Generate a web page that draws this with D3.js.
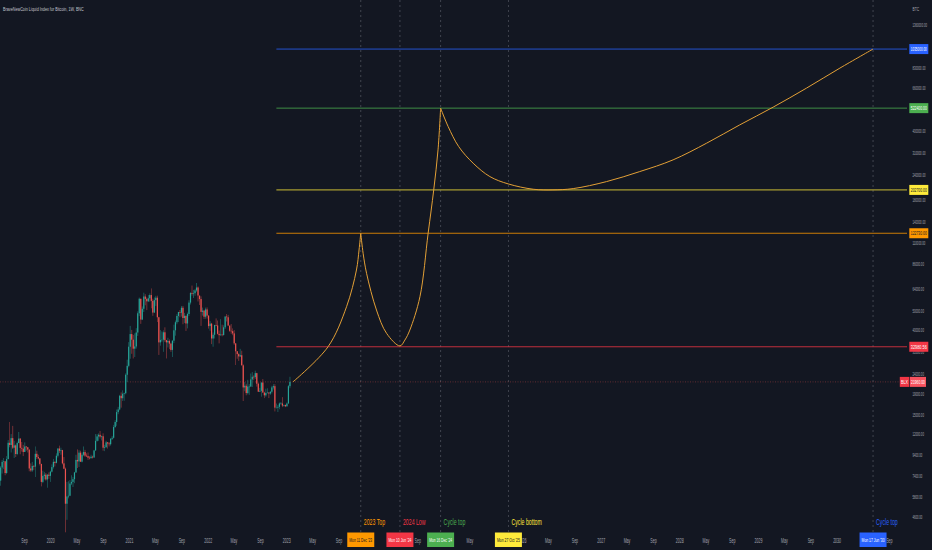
<!DOCTYPE html>
<html><head><meta charset="utf-8">
<script src="https://cdn.jsdelivr.net/npm/d3@7"></script>
<style>html,body{margin:0;padding:0;background:#131722;overflow:hidden}</style>
</head><body>
<svg id="c" width="932" height="550"></svg>
<script>
// ---------------- DATA ----------------
const titleText = "BraveNewCoin Liquid Index for Bitcoin, 1W, BNC";
const currencyText = "BTC";
const symbolText = "BLX";
const firstWeek = "2019-05-06";
const firstOpen = 5750;
const closes = [
7000,8150,8700,8750,7650,8990,10850,10580,11450,10250,10530,9530,10820,11390,10230,10140,9760,10390,10300,10030,8060,7880,8290,8230,9550,9200,9050,8500,6900,7400,7500,7100,7500,7400,7770,
8190,8700,8600,9340,10150,9900,9970,8550,8040,5360,5830,5880,6770,6900,7120,7700,8900,8750,9680,8720,9450,9750,9350,9300,9130,9080,9240,9160,9930,11100,11680,11900,11650,11700,10250,10330,10900,10770,10670,11370,11500,13030,13800,15480,15960,18700,18180,19150,19270,23850,26450,33000,
38200,35800,32260,33100,38900,48600,57500,45200,51200,59000,57400,55800,57800,60000,56100,49000,56600,58200,46400,34700,35700,35800,39000,35600,34700,35300,34200,31800,35400,39900,43800,47100,49300,48900,51800,46000,47200,43200,48200,55000,61500,60900,61300,63300,65500,59700,57300,49400,50100,46700,50800,47300,
41900,43100,36300,37900,42400,42200,38300,37700,38000,37800,41300,46800,46400,42200,39700,39500,38500,34300,31300,30300,29500,29900,26600,20600,21000,19300,20800,20800,22600,23300,23200,24300,21500,19600,19800,21800,19400,18800,19300,19400,19200,19600,20600,20900,16300,16300,16450,17100,17100,16700,16800,16550,
17100,20900,21960];
const highs = [
7450,8300,8900,9100,8800,9300,11200,13800,12000,13200,11100,10650,11000,12300,11450,10950,10600,10900,10450,10350,10050,8550,8700,8400,10400,9900,9450,9100,8500,7850,7750,7650,7550,7700,7850,
8450,9000,8750,9600,10200,10500,10250,10000,9200,8150,6900,6950,7050,7450,7300,7750,9450,10050,9950,9900,9700,10400,10000,9600,9700,9300,9450,9350,10000,12000,12000,12100,12450,11800,12100,10600,11100,10950,10950,11450,11750,13350,14100,15950,16450,18900,19450,19900,19400,24250,28400,34800,
42000,40100,37800,38500,40900,49700,58300,57500,52600,61700,60600,58400,60000,61200,64800,57500,58400,59500,59600,46600,40000,39400,39900,41300,35700,36600,35900,34600,35500,42600,44700,48100,49400,50500,52900,52900,48800,47300,49000,56500,62000,67000,63700,64300,69000,66300,59300,59100,51900,50600,51900,52000,
47500,44400,43500,38900,42600,45800,44700,39800,45400,42600,42300,46900,48200,47700,41600,42900,40800,40000,34400,31400,30600,32200,31500,26900,21900,21500,22500,21400,24200,24600,23700,25000,24400,21800,20500,21800,22700,19600,20300,20400,19500,19700,21000,21400,21400,17100,16800,17300,17400,18400,16900,16900,
17300,21200,23300];
const lows = [
5700,6600,7600,8000,7450,7550,8950,10300,9700,10100,9100,9200,9400,10800,9500,9800,9300,9750,9900,9700,7800,7750,7750,7900,7300,9000,8950,8350,6550,6800,7100,7000,6450,7150,6900,
7700,8050,8250,8550,9150,9650,9450,8450,8000,3850,4450,5700,5850,6650,6500,6800,7650,8100,8200,8700,8650,9300,9200,9200,8900,8950,9050,9050,9100,9900,11000,11100,11400,11150,9900,9850,10200,10150,10400,10500,11200,11400,12900,13200,15100,15800,16300,17600,17650,19000,21900,26000,
28700,30400,28800,29300,32300,37400,47000,43000,44900,49300,53300,50400,55300,55500,51500,47200,48800,52900,43900,30000,33400,34800,31100,34900,28800,32700,32100,31100,29300,34400,37500,42800,43900,46400,46800,42800,43400,39600,40800,47100,53800,59600,58000,59500,62300,55700,53500,42000,47300,45500,45600,45700,
40700,39700,34000,33000,36300,41800,38000,34300,37500,37200,37500,40500,44200,41900,39200,38300,37700,33700,26700,28700,28000,29300,26600,17600,19700,18800,19000,18900,20800,20700,22400,22700,20800,19600,19600,18500,19400,18200,18500,19300,18200,18900,19200,20100,15600,16300,15500,16000,16900,16400,16500,16400,
16500,17100,20400];

// price labels hidden behind the level boxes in the reference are not listed
const priceTicks = [4600,5800,7400,9400,12000,15000,19000,24000,31000,40000,50000,64000,86000,110000,140000,180000,240000,310000,400000,660000,830000,1360000];

// time labels fully hidden behind the date boxes in the reference are not listed
const timeTickDates = ["2019-09-01","2020-01-01","2020-05-01","2020-09-01","2021-01-01","2021-05-01","2021-09-01","2022-01-01","2022-05-01","2022-09-01","2023-01-01","2023-05-01","2023-09-01","2024-09-01","2025-05-01","2026-01-01","2026-05-01","2026-09-01","2027-01-01","2027-05-01","2027-09-01","2028-01-01","2028-05-01","2028-09-01","2029-01-01","2029-05-01","2029-09-01","2030-01-01","2030-09-01"];
const timeTickLabels = ["Sep","2020","May","Sep","2021","May","Sep","2022","May","Sep","2023","May","Sep","Sep","May","2026","May","Sep","2027","May","Sep","2028","May","Sep","2029","May","Sep","2030","Sep"];

const eventNames = ["2023 Top","2024 Low","Cycle top","Cycle bottom","Cycle top"];
const eventDates = ["2023-12-11","2024-06-10","2024-12-16","2025-10-27","2030-06-17"];
const eventDateLabels = ["Mon 11 Dec '23","Mon 10 Jun '24","Mon 16 Dec '24","Mon 27 Oct '25","Mon 17 Jun '30"];
const levelValues = [122730.00, 32980.56, 522400.00, 202700.00, 1035000.00];
const levelStart = "2022-11-14";

const curveDates = ["2023-01-30","2023-07-12","2023-10-06","2023-11-21","2023-12-03","2023-12-11",
 "2023-12-22","2024-01-07","2024-02-22","2024-04-09","2024-06-10","2024-07-03","2024-07-26","2024-09-11","2024-10-19","2024-11-14","2024-12-04","2024-12-16",
 "2025-01-20","2025-03-10","2025-05-16","2025-08-02","2025-10-26","2026-02-19","2026-05-22","2026-08-24","2027-01-26","2027-06-29","2027-12-01","2028-05-05","2028-10-06","2029-03-10","2029-08-12","2030-01-14","2030-06-17"];
const curvePrices = [21960,32980,52440,80220,101100,122730,
 97340,77210,50460,38520,33300,35650,40020,58870,122700,202700,322200,522400,
 422100,334700,276200,236500,217300,204300,202700,205800,223200,250600,287000,348300,430500,528500,658700,830400,1035000];

// ---------------- STYLE ----------------
const BG = "#131722";
const UP = "#26a69a", DOWN = "#ef5350";
const eventColors = ["#ff9800","#f23645","#4caf50","#ffeb3b","#2962ff"];
const boxTextColors = ["#131722","#ffffff","#ffffff","#131722","#ffffff"];
const FONT = "'Liberation Sans', Arial, sans-serif";
const AXIS = "#a3a6af";
const plotRight = 907;

// ---------------- CHART ----------------
const svg = d3.select("#c");
const parse = d3.utcParse("%Y-%m-%d");
const x = d3.scaleUtc().domain([new Date(Date.UTC(2020,0,1)), new Date(Date.UTC(2030,0,1))]).range([50.8, 837.1]);
const y = d3.scaleLog().domain([3850, 69000]).range([532.3, 283]);

function ctext(parent, tx, ty, str, o) {
  const t = parent.append("text").text(str)
    .attr("font-family", FONT).attr("font-size", o.size).attr("fill", o.fill)
    .attr("text-anchor", o.anchor || "start").attr("dy", o.dy || 0);
  const L = t.node().getComputedTextLength() || 1;
  const r = o.w ? o.w / L : o.r;
  t.attr("transform", `translate(${tx},${ty}) scale(${r},1)`);
  return t;
}

svg.append("rect").attr("width",932).attr("height",550).attr("fill",BG);

svg.append("g").selectAll("line").data(eventDates).join("line")
  .attr("x1", d=>x(parse(d))).attr("x2", d=>x(parse(d)))
  .attr("y1", 0).attr("y2", 532)
  .attr("stroke", "#5d606b").attr("stroke-width", 0.8).attr("stroke-dasharray","2,3").attr("opacity",0.8);

svg.append("g").selectAll("line").data(levelValues).join("line")
  .attr("x1", x(parse(levelStart))).attr("x2", plotRight)
  .attr("y1", d=>y(d)).attr("y2", d=>y(d))
  .attr("stroke", (d,i)=>eventColors[i]).attr("stroke-width", 1).attr("opacity", 0.78);

const start = parse(firstWeek);
const candles = closes.map((c,i)=>({date: d3.utcDay.offset(start, 7*i), o: i ? closes[i-1] : firstOpen, h: highs[i], l: lows[i], c}));
const lastClose = closes[closes.length-1];

svg.append("line").attr("x1",0).attr("x2",plotRight).attr("y1",y(lastClose)).attr("y2",y(lastClose))
  .attr("stroke","#ef5350").attr("stroke-opacity",0.45).attr("stroke-width",0.8).attr("stroke-dasharray","1,1.5");

const cg = svg.append("g");
cg.selectAll("line").data(candles).join("line")
  .attr("x1", d=>x(d.date)).attr("x2", d=>x(d.date))
  .attr("y1", d=>y(d.h)).attr("y2", d=>y(d.l))
  .attr("stroke", d=>d.c>=d.o?UP:DOWN).attr("stroke-width",0.6).attr("opacity",0.75);
cg.selectAll("rect").data(candles).join("rect")
  .attr("x", d=>x(d.date)-0.6).attr("width",1.2)
  .attr("y", d=>y(Math.max(d.o,d.c))).attr("height", d=>Math.max(0.6, Math.abs(y(d.o)-y(d.c))))
  .attr("fill", d=>d.c>=d.o?UP:DOWN);

const pts = curveDates.map((d,i)=>({date: parse(d), v: curvePrices[i], key: d}));
const cusps = [eventDates[0], eventDates[2]];
const segs = []; let cur = [];
pts.forEach(p=>{ cur.push(p); if (cusps.includes(p.key)) { segs.push(cur); cur = [p]; } });
segs.push(cur);
const line = d3.line().x(d=>x(d.date)).y(d=>y(d.v)).curve(d3.curveCatmullRom.alpha(0.5));
svg.append("g").selectAll("path").data(segs).join("path")
  .attr("d", line).attr("fill","none").attr("stroke","#e3a036").attr("stroke-width",1);

ctext(svg, 3, 10.5, titleText, {size:6, fill:"#c3c6ce", r:0.62});
ctext(svg, 912.5, 10.5, currencyText, {size:5.5, fill:AXIS, r:0.6});

const pa = svg.append("g");
priceTicks.forEach(v => ctext(pa, 912.5, y(v), d3.format(".2f")(v), {size:5.5, fill:AXIS, r:0.5, dy:"0.35em"}));

const ta = svg.append("g");
timeTickDates.forEach((d,i) => ctext(ta, x(parse(d)), 541, timeTickLabels[i], {size:6.5, fill:AXIS, r:0.55, anchor:"middle", dy:"0.35em"}));

const en = svg.append("g");
eventNames.forEach((n,i) => ctext(en, x(parse(eventDates[i]))+3, 525, n, {size:9, fill:eventColors[i], r:0.58}));

const db = svg.append("g");
eventDateLabels.forEach((s,i) => {
  const cx = x(parse(eventDates[i]));
  db.append("rect").attr("x",cx-13.5).attr("y",532.5).attr("width",27).attr("height",14.5).attr("fill",eventColors[i]);
  ctext(db, cx, 540, s, {size:5.5, fill:boxTextColors[i], w:23, anchor:"middle", dy:"0.35em"});
});

const lb = svg.append("g");
levelValues.forEach((v,i) => {
  const yy = y(v);
  lb.append("rect").attr("x",909.3).attr("y",yy-5).attr("width",19).attr("height",10).attr("fill",eventColors[i]);
  ctext(lb, 918.8, yy, d3.format(".2f")(v), {size:5.5, fill:boxTextColors[i], w:16, anchor:"middle", dy:"0.35em"});
});

const yl = y(lastClose);
svg.append("rect").attr("x",899.8).attr("y",yl-5).attr("width",9.6).attr("height",10).attr("fill","#f23645");
ctext(svg, 904.6, yl, symbolText, {size:5.5, fill:"#fff", w:7, anchor:"middle", dy:"0.35em"});
svg.append("rect").attr("x",910).attr("y",yl-5).attr("width",16).attr("height",10).attr("fill","#f7525f");
ctext(svg, 918, yl, d3.format(".2f")(lastClose), {size:5.5, fill:"#fff", w:14, anchor:"middle", dy:"0.35em"});
</script>
</body></html>
